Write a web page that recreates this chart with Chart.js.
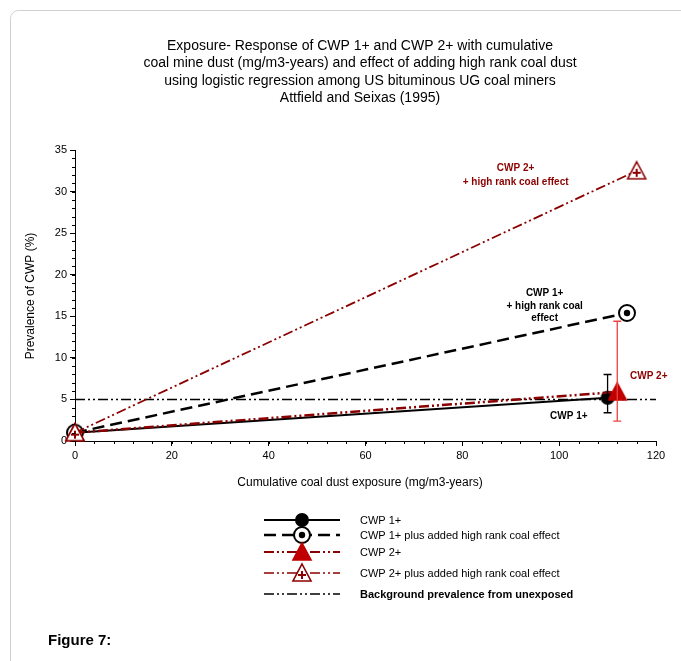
<!DOCTYPE html>
<html><head><meta charset="utf-8">
<script src="https://cdn.jsdelivr.net/npm/chart.js@4/dist/chart.umd.min.js"></script>
<style>body{margin:0;background:#fff}canvas{display:block}</style>
</head><body>
<canvas id="canvas" width="681" height="661"></canvas>
<script>
var exposure = [0, 110, 114, 112, 116];
var cwp1 = [1.0, 5.2];
var cwp1High = [1.0, 15.4];
var cwp2 = [1.0, 5.9];
var cwp2High = [1.0, 32.5];
var background = 5;
var cwp1Err = [3.4, 8.0];
var cwp2Err = [2.4, 14.4];
var titleLines = [
    "Exposure- Response of CWP 1+ and CWP 2+ with cumulative",
    "coal mine dust (mg/m3-years) and effect of adding high rank coal dust",
    "using logistic regression among US bituminous UG coal miners",
    "Attfield and Seixas (1995)"
];
var legendLabels = [
    "CWP 1+",
    "CWP 1+ plus added high rank coal effect",
    "CWP 2+",
    "CWP 2+ plus added high rank coal effect",
    "Background prevalence from unexposed"
];
var darkRed = "#8b0000";
var dotDot = [10, 3, 2, 3, 2, 3];

function marker(kind) {
    var c = document.createElement("canvas");
    c.width = 22; c.height = 22;
    var g = c.getContext("2d");
    g.lineWidth = 1.6;
    if (kind === "dot") {
        g.fillStyle = "#000"; g.beginPath(); g.arc(11, 11, 7, 0, 7); g.fill();
    } else if (kind === "ring") {
        g.fillStyle = "#fff"; g.strokeStyle = "#000"; g.lineWidth = 2;
        g.beginPath(); g.arc(11, 11, 8, 0, 7); g.fill(); g.stroke();
        g.fillStyle = "#000"; g.beginPath(); g.arc(11, 11, 3.2, 0, 7); g.fill();
    } else {
        g.beginPath(); g.moveTo(11, 2); g.lineTo(20, 19); g.lineTo(2, 19); g.closePath();
        if (kind === "tri") {
            g.fillStyle = "#c00000"; g.fill(); g.strokeStyle = "#c00000"; g.stroke();
        } else {
            g.fillStyle = "#fff"; g.fill(); g.strokeStyle = darkRed; g.stroke();
            g.fillStyle = darkRed; g.fillRect(10, 9, 2, 8); g.fillRect(7, 12, 8, 2);
        }
    }
    return c;
}
var mk = { dot: marker("dot"), ring: marker("ring"), tri: marker("tri"), otri: marker("otri") };

function pts(xEnd, ys) { return [{ x: exposure[0], y: ys[0] }, { x: xEnd, y: ys[1] }]; }

var extras = {
    id: "extras",
    afterDatasetsDraw: function (chart) {
        var ctx = chart.ctx, xs = chart.scales.x, ys = chart.scales.y;
        ctx.save();
        function err(xv, lim, col) {
            var px = xs.getPixelForValue(xv);
            var y1 = ys.getPixelForValue(lim[0]), y2 = ys.getPixelForValue(lim[1]);
            ctx.strokeStyle = col; ctx.lineWidth = 1.3; ctx.setLineDash([]);
            ctx.beginPath(); ctx.moveTo(px, y1); ctx.lineTo(px, y2);
            ctx.moveTo(px - 4, y1); ctx.lineTo(px + 4, y1);
            ctx.moveTo(px - 4, y2); ctx.lineTo(px + 4, y2); ctx.stroke();
        }
        err(exposure[1], cwp1Err, "#000");
        err(exposure[3], cwp2Err, "#f04040");
        ctx.strokeStyle = "#000"; ctx.lineWidth = 1;
        ctx.beginPath();
        for (var v = 0; v <= 35; v++) {
            var py = Math.round(ys.getPixelForValue(v)) + 0.5;
            ctx.moveTo(xs.left - 3, py); ctx.lineTo(xs.left, py);
        }
        for (var u = 0; u <= 120; u += 4) {
            var px = Math.round(xs.getPixelForValue(u)) + 0.5;
            ctx.moveTo(px, ys.bottom); ctx.lineTo(px, ys.bottom + 3);
        }
        ctx.stroke();
        ctx.font = "bold 10px 'Liberation Sans', Arial";
        ctx.textAlign = "center"; ctx.textBaseline = "middle";
        ctx.fillStyle = darkRed;
        ctx.fillText("CWP 2+", xs.getPixelForValue(91), ys.getPixelForValue(32.8));
        ctx.fillText("+ high rank coal effect", xs.getPixelForValue(91), ys.getPixelForValue(31.1));
        ctx.fillText("CWP 2+", xs.getPixelForValue(118.5), ys.getPixelForValue(7.8));
        ctx.fillStyle = "#000";
        ctx.fillText("CWP 1+", xs.getPixelForValue(97), ys.getPixelForValue(17.8));
        ctx.fillText("+ high rank coal", xs.getPixelForValue(97), ys.getPixelForValue(16.2));
        ctx.fillText("effect", xs.getPixelForValue(97), ys.getPixelForValue(14.8));
        ctx.fillText("CWP 1+", xs.getPixelForValue(102), ys.getPixelForValue(3.0));
        ctx.restore();
    },
    afterDraw: function (chart) {
        var ctx = chart.ctx;
        ctx.save();
        ctx.strokeStyle = "#d0d0d0"; ctx.lineWidth = 1;
        ctx.beginPath(); ctx.roundRect(10.5, 10.5, 700, 700, 8); ctx.stroke();
        ctx.fillStyle = "#000"; ctx.textAlign = "center"; ctx.textBaseline = "middle";
        ctx.font = "14px 'Liberation Sans', Arial";
        titleLines.forEach(function (t, i) { ctx.fillText(t, 360, 46 + i * 17.5); });
        ctx.font = "12px 'Liberation Sans', Arial";
        ctx.fillText("Cumulative coal dust exposure (mg/m3-years)", 360, 483);
        ctx.save(); ctx.translate(31, 296); ctx.rotate(-Math.PI / 2);
        ctx.fillText("Prevalence of CWP (%)", 0, 0); ctx.restore();
        var ly = [520, 535, 552, 573, 594];
        var styles = [
            { c: "#000", d: [], w: 2, m: mk.dot },
            { c: "#000", d: [12, 6], w: 2.5, m: mk.ring },
            { c: darkRed, d: dotDot, w: 2, m: mk.tri },
            { c: darkRed, d: dotDot, w: 1.5, m: mk.otri },
            { c: "#000", d: dotDot, w: 1.5, m: null }
        ];
        ctx.textAlign = "left";
        styles.forEach(function (s, i) {
            ctx.strokeStyle = s.c; ctx.lineWidth = s.w; ctx.setLineDash(s.d);
            ctx.beginPath(); ctx.moveTo(264, ly[i]); ctx.lineTo(340, ly[i]); ctx.stroke();
            if (s.m) ctx.drawImage(s.m, 291, ly[i] - 11);
            ctx.fillStyle = "#000";
            ctx.font = (i === 4 ? "bold " : "") + "11px 'Liberation Sans', Arial";
            ctx.fillText(legendLabels[i], 360, ly[i] + 1);
        });
        ctx.setLineDash([]);
        ctx.font = "bold 15px 'Liberation Sans', Arial";
        ctx.fillText("Figure 7:", 48, 641);
        ctx.restore();
    }
};

new Chart(document.getElementById("canvas").getContext("2d"), {
    type: "scatter",
    data: {
        datasets: [
            { data: [{ x: 0, y: background }, { x: 120, y: background }], showLine: true, borderColor: "#000", borderWidth: 1.5, borderDash: dotDot, pointRadius: 0, order: 5 },
            { data: pts(exposure[1], cwp1), showLine: true, borderColor: "#000", borderWidth: 2, pointStyle: mk.dot, clip: false, order: 4 },
            { data: pts(exposure[2], cwp1High), showLine: true, borderColor: "#000", borderWidth: 2.5, borderDash: [12, 6], pointStyle: mk.ring, clip: false, order: 3 },
            { data: pts(exposure[3], cwp2), showLine: true, borderColor: darkRed, borderWidth: 2.5, borderDash: dotDot, pointStyle: mk.tri, clip: false, order: 2 },
            { data: pts(exposure[4], cwp2High), showLine: true, borderColor: darkRed, borderWidth: 1.8, borderDash: dotDot, pointStyle: mk.otri, clip: false, order: 1 }
        ]
    },
    options: {
        responsive: false,
        animation: false,
        layout: { padding: { top: 150, right: 25, left: 0, bottom: 0 } },
        plugins: { legend: { display: false }, tooltip: { enabled: false } },
        scales: {
            x: {
                min: 0, max: 120,
                ticks: { stepSize: 20, color: "#000", font: { size: 11, family: "'Liberation Sans', Arial" } },
                grid: { drawOnChartArea: false, color: "#000", tickLength: 5 },
                border: { color: "#000" },
                afterFit: function (s) { s.height = 220; }
            },
            y: {
                min: 0, max: 35,
                ticks: { stepSize: 5, color: "#000", font: { size: 11, family: "'Liberation Sans', Arial" } },
                grid: { drawOnChartArea: false, color: "#000", tickLength: 5 },
                border: { color: "#000" },
                afterFit: function (s) { s.width = 75; }
            }
        }
    },
    plugins: [extras]
});
</script>
</body></html>
